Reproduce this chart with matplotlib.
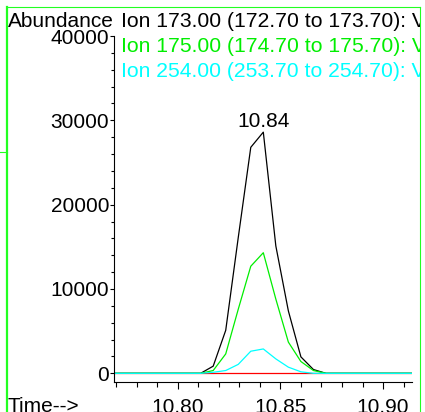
import matplotlib
matplotlib.use("Agg")
import matplotlib.pyplot as plt
from matplotlib.ticker import MultipleLocator, FormatStrFormatter
from matplotlib.lines import Line2D
from matplotlib.transforms import Bbox, TransformedBbox

# scan times (min) and abundances
times = [10.769, 10.8112, 10.8173, 10.8234, 10.8295, 10.8356, 10.8417,
         10.8478, 10.8539, 10.8600, 10.8661, 10.8722, 10.914]
ion173 = [0, 0, 850, 5100, 16100, 26800, 28600, 15100, 7400, 1950, 450, 0, 0]
ion175 = [0, 0, 330, 2300, 7600, 12700, 14300, 8800, 3700, 1400, 330, 0, 0]
ion254 = [0, 0, 120, 330, 1060, 2620, 2890, 1710, 730, 180, 0, 0, 0]
ion_other = [0] * len(times)

labels = ["Ion 173.00 (172.70 to 173.70): V",
          "Ion 175.00 (174.70 to 175.70): V",
          "Ion 254.00 (253.70 to 254.70): V"]
colors = ["black", "#00ee00", "#00ffff"]
peak_rt = "10.84"

plt.rcParams['font.family'] = ['Liberation Sans', 'DejaVu Sans']
plt.rcParams['font.size'] = 15

W, H = 425, 412
fig = plt.figure(figsize=(W / 100, H / 100), dpi=100)
ax = fig.add_axes([114 / W, 1 - 382 / H, (412 - 114) / W, (382 - 36) / H])

ax.plot(times, ion_other, color='red', lw=0.9)
ax.plot(times, ion173, color=colors[0], lw=0.9)
ax.plot(times, ion175, color=colors[1], lw=0.9)
ax.plot(times, ion254, color=colors[2], lw=0.9)

ax.set_xlim(10.769, 10.9141)
ax.set_ylim(-1030, 40000)
ax.spines['top'].set_visible(False)
ax.spines['right'].set_visible(False)
ax.xaxis.set_major_locator(MultipleLocator(0.05))
ax.xaxis.set_minor_locator(MultipleLocator(0.01))
ax.xaxis.set_major_formatter(FormatStrFormatter('%.2f'))
ax.yaxis.set_major_locator(MultipleLocator(10000))
ax.yaxis.set_minor_locator(MultipleLocator(2000))
ax.yaxis.set_major_formatter(FormatStrFormatter('%d'))
ax.tick_params(axis='x', which='major', length=5, width=0.8, pad=6.5)
ax.tick_params(axis='x', which='minor', length=3.6, width=0.8)
ax.tick_params(axis='y', which='major', length=3, width=0.8, pad=0.5)
ax.tick_params(axis='y', which='minor', length=2.2, width=0.8)

ax.annotate(peak_rt, (times[6], ion173[6]), xytext=(0, 5),
            textcoords='offset pixels', ha='center', va='baseline')

# header texts
fig.text(8 / W, 1 - 27 / H, "Abundance", ha='left', va='baseline')
clip = TransformedBbox(Bbox([[0, 0], [420 / W, 1]]), fig.transFigure)
for i, (lab, c) in enumerate(zip(labels, colors)):
    t = fig.text(121 / W, 1 - (27 + 25 * i) / H, lab, color=c,
                 ha='left', va='baseline', fontsize=15.2)
    t.set_clip_box(clip)
fig.text(8 / W, 1 - 412 / H, "Time-->", ha='left', va='baseline')

# green frame
fc = '#22ff22'
def fline(xs, ys, lw):
    fig.add_artist(Line2D([x / W for x in xs], [1 - y / H for y in ys],
                          transform=fig.transFigure, color=fc, lw=lw))
fline([7, 7], [7, 412], 1.6)
fline([7, 420], [7, 7], 0.8)
fline([420, 420], [7, 412], 0.8)
fline([0, 7], [152, 152], 0.8)

fig.savefig("out.png", dpi=100)
